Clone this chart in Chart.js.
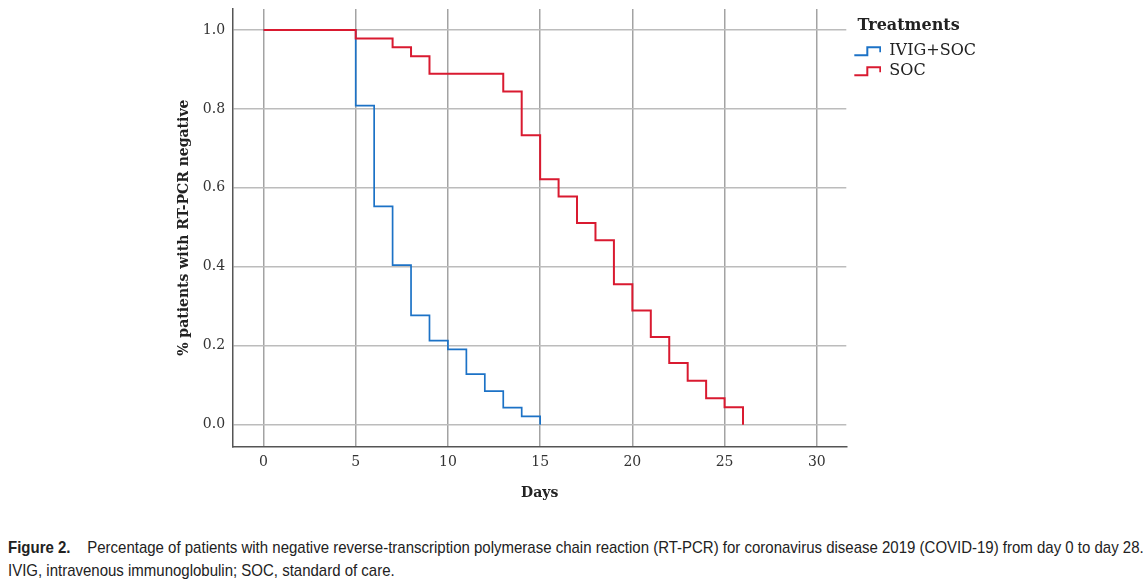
<!DOCTYPE html>
<html>
<head>
<meta charset="utf-8">
<script src="https://cdn.jsdelivr.net/npm/chart.js@4/dist/chart.umd.min.js"></script>
<style>
  body { margin: 0; background: #fff; width: 1148px; height: 585px; overflow: hidden; position: relative; }
  #wrap { position: absolute; left: 0; top: 0; width: 990px; height: 510px; }
  #caption {
    position: absolute; left: 8px; top: 536px;
    font-family: "Liberation Sans", Arial, sans-serif;
    font-size: 17px; line-height: 23px; color: #222;
    white-space: nowrap;
    transform: scaleX(0.882); transform-origin: left top;
  }
  #caption b { margin-right: 19px; }
</style>
</head>
<body>
<div id="wrap"><canvas id="km-chart"></canvas></div>
<div id="caption"><b>Figure 2.</b>Percentage of patients with negative reverse-transcription polymerase chain reaction (RT-PCR) for coronavirus disease 2019 (COVID-19) from day 0 to day 28.<br>IVIG, intravenous immunoglobulin; SOC, standard of care.</div>
<script>
// ── Data (Kaplan-Meier steps) ───────────────────────────────────────────────
const ivigDays   = [0, 5, 6, 7, 8, 9, 10, 11, 12, 13, 14, 15];
const ivigValues = [1.0, 0.808, 0.553, 0.404, 0.277, 0.213, 0.191, 0.128, 0.085, 0.043, 0.021, 0.0];

const socDays    = [0, 5, 7, 8, 9, 13, 14, 15, 16, 17, 18, 19, 20, 21, 22, 23, 24, 25, 26];
const socValues  = [1.0, 0.978, 0.956, 0.933, 0.889, 0.844, 0.733, 0.622, 0.578, 0.511, 0.467,
                    0.356, 0.289, 0.222, 0.156, 0.111, 0.067, 0.044, 0.0];

const xTicks = [0, 5, 10, 15, 20, 25, 30];
const yTicks = [0.0, 0.2, 0.4, 0.6, 0.8, 1.0];

const BLUE = '#1c72c6';
const RED  = '#d91a30';
const SERIF = '"DejaVu Serif", "Liberation Serif", serif';

// small step-shaped legend icon (3px blank on the left as a gap)
function stepIcon(color) {
  const c = document.createElement('canvas');
  c.width = 31; c.height = 12;
  const g = c.getContext('2d');
  g.strokeStyle = color;
  g.lineWidth = 2;
  g.beginPath();
  g.moveTo(4, 10);
  g.lineTo(17, 10);
  g.lineTo(17, 2);
  g.lineTo(30, 2);
  g.lineTo(30, 7);
  g.stroke();
  return c;
}

const toPoints = (xs, ys) => xs.map((x, i) => ({ x, y: ys[i] }));

new Chart(document.getElementById('km-chart').getContext('2d'), {
  type: 'line',
  data: {
    datasets: [
      {
        label: 'IVIG+SOC',
        data: toPoints(ivigDays, ivigValues),
        borderColor: BLUE,
        backgroundColor: BLUE,
        borderWidth: 1.7,
        stepped: 'before',
        pointRadius: 0,
        pointStyle: stepIcon(BLUE),
        order: 1,
      },
      {
        label: 'SOC',
        data: toPoints(socDays, socValues),
        borderColor: RED,
        backgroundColor: RED,
        borderWidth: 2,
        stepped: 'before',
        pointRadius: 0,
        pointStyle: stepIcon(RED),
        order: 0,
      },
    ],
  },
  options: {
    responsive: true,
    maintainAspectRatio: false,
    animation: false,
    layout: { padding: { left: 172, top: 9, right: 4, bottom: 4 } },
    plugins: {
      tooltip: { enabled: false },
      legend: {
        position: 'right',
        align: 'start',
        title: {
          display: true,
          text: '\u2002\u2009Treatments',
          position: 'start',
          color: '#222',
          font: { family: SERIF, size: 16, weight: 'bold' },
          padding: { top: 9, bottom: 2 },
        },
        labels: {
          usePointStyle: true,
          pointStyleWidth: 31,
          color: '#222',
          padding: 4,
          font: { family: SERIF, size: 16 },
          sort: (a, b) => a.datasetIndex - b.datasetIndex,
        },
      },
    },
    scales: {
      x: {
        type: 'linear',
        min: -1.65,
        max: 31.6,
        afterBuildTicks: s => { s.ticks = xTicks.map(v => ({ value: v })); },
        ticks: { color: '#333', padding: 8, font: { family: SERIF, size: 14 } },
        grid: { color: '#a3a3a3', lineWidth: 1.5, drawTicks: false },
        border: { color: '#555', width: 1.5 },
        title: {
          display: true,
          text: 'Days',
          color: '#222',
          font: { family: SERIF, size: 14, weight: 'bold' },
          padding: { top: 6 },
        },
      },
      y: {
        min: -0.055,
        max: 1.053,
        afterBuildTicks: s => { s.ticks = yTicks.map(v => ({ value: v })); },
        afterFit: s => { s.paddingTop = 0; s.paddingBottom = 0; },
        ticks: {
          color: '#333',
          padding: 8,
          font: { family: SERIF, size: 14 },
          callback: v => v.toFixed(1),
        },
        grid: { color: '#bcbcbc', lineWidth: 1.5, drawTicks: false },
        border: { color: '#555', width: 1.5 },
        title: {
          display: true,
          text: '% patients with RT-PCR negative',
          color: '#222',
          font: { family: SERIF, size: 14, weight: 'bold' },
          padding: { bottom: 2 },
        },
      },
    },
  },
});
</script>
</body>
</html>
